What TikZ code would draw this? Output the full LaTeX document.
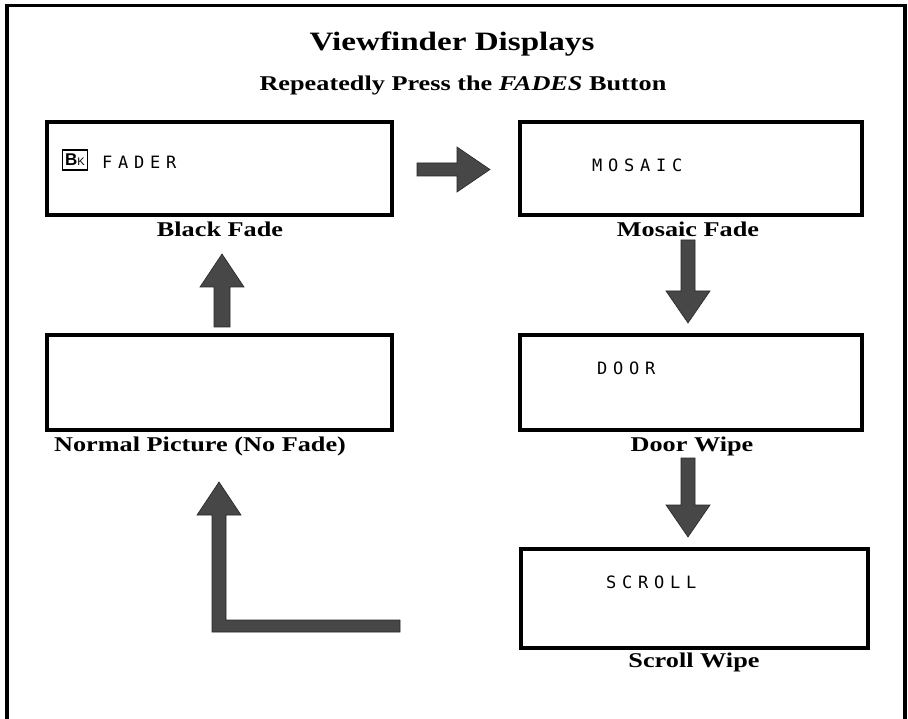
\documentclass[tikz,border=0pt]{standalone}
\usepackage{fontspec}
\setmainfont{Liberation Serif}[FakeStretch=1.25]
\newfontfamily\lcdfont{DejaVu Sans Mono}
\newfontfamily\iconfont{Liberation Sans}
\def\lcdloop#1{\ifx#1\relax\else\makebox[16pt][c]{#1}\expandafter\lcdloop\fi}
\newcommand\lcdtxt[1]{{\lcdfont\fontsize{17}{17}\selectfont\lcdloop#1\relax}}
\tikzset{
  screen/.style={draw=black, line width=4.5pt, fill=white},
  lbl/.style={font=\bfseries\fontsize{21}{21}\selectfont, inner sep=0pt},
  lcd/.style={anchor=west, inner sep=0pt},
  blockarrow/.style={fill=black!72, draw=black!85, line width=0.6pt},
}
\begin{document}
\begin{tikzpicture}[x=1pt,y=-1pt]
\useasboundingbox (0,0) rectangle (908,719);
% outer frame (open at bottom)
\draw[line width=3.5pt] (7,725) -- (7,5.5) -- (905,5.5) -- (905,725);

% titles
\node[inner sep=0pt, font=\bfseries\fontsize{26.5}{26.5}\selectfont] (title) at (452,44) {Viewfinder Displays};
\node[inner sep=0pt, font=\bfseries\fontsize{21}{21}\selectfont] (sub) at (463,85) {Repeatedly Press the \textit{FADES} Button};

% screens
\draw[screen] (47,122) rectangle (392,215);
\node (bfbox) at (219.5,168.5) [minimum width=345, minimum height=93, inner sep=0pt] {};
\draw[screen] (520,122) rectangle (862,215);
\node (mfbox) at (691,168.5) [minimum width=342, minimum height=93, inner sep=0pt] {};
\draw[screen] (47,335) rectangle (392,430);
\node (npbox) at (219.5,382.5) [minimum width=345, minimum height=95, inner sep=0pt] {};
\draw[screen] (520,335) rectangle (862,430);
\node (dwbox) at (691,382.5) [minimum width=342, minimum height=95, inner sep=0pt] {};
\draw[screen] (521,549) rectangle (868,648);
\node (swbox) at (694.5,598.5) [minimum width=347, minimum height=99, inner sep=0pt] {};

% Bk icon
\node[draw, line width=1.8pt, inner sep=1pt, minimum width=25, minimum height=20] (bk) at (75,160)
  {\iconfont\fontsize{17}{17}\selectfont\bfseries B\mdseries\fontsize{11}{11}\selectfont K};
\node[lcd] (fader) at (99,162.5) {\lcdtxt{FADER}};
\node[lcd] (mosaic) at (589,165) {\lcdtxt{MOSAIC}};
\node[lcd] (door) at (594,368) {\lcdtxt{DOOR}};
\node[lcd] (scroll) at (603,582) {\lcdtxt{SCROLL}};

% captions
\node[lbl] (lbf) at (220,229) {Black Fade};
\node[lbl] (lmf) at (688,229) {Mosaic Fade};
\node[lbl] (lnp) at (200,446) {Normal Picture (No Fade)};
\node[lbl] (ldw) at (692,446) {Door Wipe};
\node[lbl] (lsw) at (694,662) {Scroll Wipe};

% block arrows
\fill[blockarrow] (417,163) -- (457,163) -- (457,147) -- (490,169.5) -- (457,192) -- (457,176) -- (417,176) -- cycle;
\fill[blockarrow] (681,240) -- (695,240) -- (695,291) -- (710,291) -- (688,323) -- (666,291) -- (681,291) -- cycle;
\fill[blockarrow] (681,458) -- (695,458) -- (695,505) -- (710,505) -- (688,537) -- (666,505) -- (681,505) -- cycle;
\fill[blockarrow] (214,327) -- (214,287) -- (200,287) -- (222,254) -- (244,287) -- (230,287) -- (230,327) -- cycle;
\fill[blockarrow] (212,632) -- (212,515) -- (197,515) -- (219,482) -- (241,515) -- (226,515) -- (226,620) -- (400,620) -- (400,632) -- cycle;
\end{tikzpicture}
\end{document}
